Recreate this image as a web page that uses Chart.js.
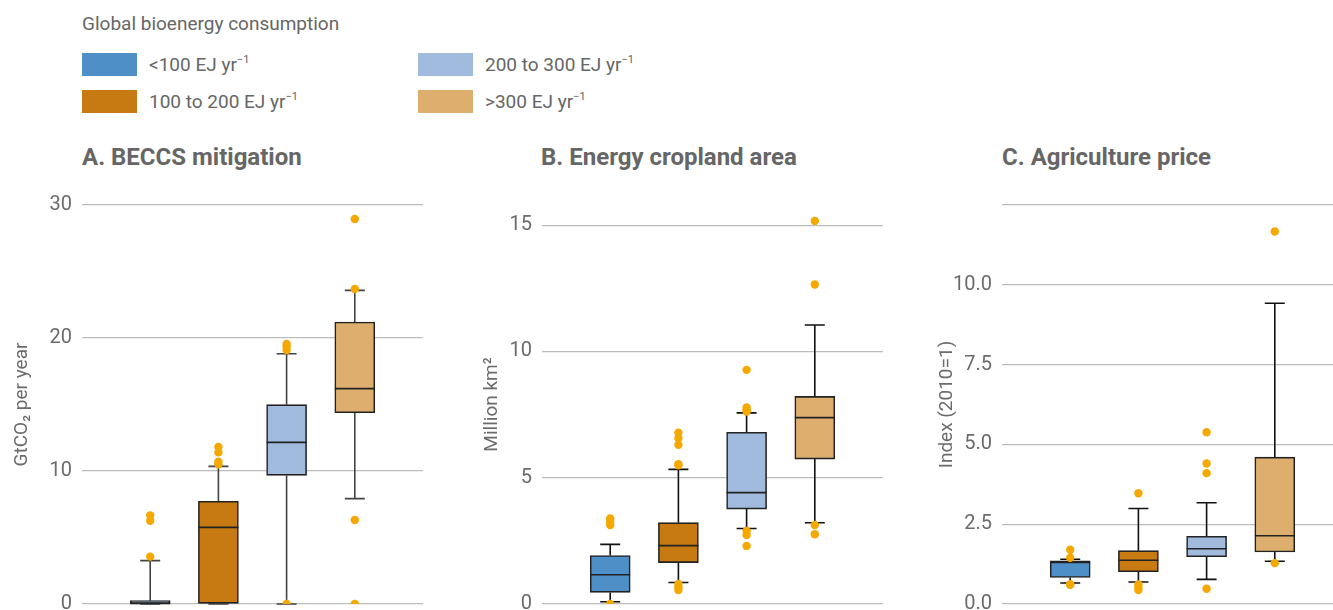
<!DOCTYPE html>
<html>
<head>
<meta charset="utf-8">
<script src="https://cdn.jsdelivr.net/npm/chart.js@4.4.0/dist/chart.umd.min.js"></script>
<style>
  body { margin: 0; width: 1333px; height: 610px; overflow: hidden; background: #fff; position: relative;
         font-family: 'Roboto', sans-serif; color: #666; }
  .legend-title { position: absolute; left: 82px; top: 12px; font-size: 19px; }
  .item { position: absolute; font-size: 19px; height: 23px; line-height: 23px; white-space: nowrap; }
  .item span.sw { position: absolute; left: 0; top: 0; width: 55px; height: 23px; }
  .item span.tx { position: absolute; left: 67px; top: 0; }
  sup { font-size: 11px; vertical-align: 8px; line-height: 0; }
  .title { position: absolute; top: 143px; font-size: 24px; font-weight: bold; color: #666; }
  .panel { position: absolute; top: 180px; height: 450px; }
</style>
</head>
<body>
<div class="legend-title">Global bioenergy consumption</div>
<div class="item" style="left:82px;top:53px"><span class="sw" style="background:#4f8fc8"></span><span class="tx">&lt;100 EJ yr<sup>&minus;1</sup></span></div>
<div class="item" style="left:82px;top:90px"><span class="sw" style="background:#c77a12"></span><span class="tx">100 to 200 EJ yr<sup>&minus;1</sup></span></div>
<div class="item" style="left:418px;top:53px"><span class="sw" style="background:#a1bbdf"></span><span class="tx">200 to 300 EJ yr<sup>&minus;1</sup></span></div>
<div class="item" style="left:418px;top:90px"><span class="sw" style="background:#ddae6e"></span><span class="tx">&gt;300 EJ yr<sup>&minus;1</sup></span></div>

<div class="title" style="left:82px">A. BECCS mitigation</div>
<div class="title" style="left:541px">B. Energy cropland area</div>
<div class="title" style="left:1002px">C. Agriculture price</div>

<div class="panel" style="left:0px;width:440px"><canvas id="chartA"></canvas></div>
<div class="panel" style="left:470px;width:430px"><canvas id="chartB"></canvas></div>
<div class="panel" style="left:925px;width:435px"><canvas id="chartC"></canvas></div>

<script>
const categories = ['<100', '100-200', '200-300', '>300'];
const colors = ['#4f8fc8', '#c77a12', '#a1bbdf', '#ddae6e'];

// box stats per category: [min, q1, median, q3, max]
const beccsBoxes = [
  [0, 0, 0.05, 0.25, 3.26],
  [0, 0, 5.76, 7.72, 10.35],
  [0, 9.67, 12.15, 14.99, 18.82],
  [7.92, 14.38, 16.19, 21.2, 23.58]
];
const beccsOutliers = [
  [3.56, 6.26, 6.66],
  [10.5, 10.7, 11.4, 11.8],
  [0, 19.1, 19.35, 19.55],
  [0, 6.32, 23.68, 28.95]
];

const croplandBoxes = [
  [0.09, 0.46, 1.16, 1.92, 2.36],
  [0.85, 1.64, 2.31, 3.22, 5.33],
  [2.99, 3.76, 4.41, 6.8, 7.57],
  [3.22, 5.74, 7.38, 8.22, 11.05]
];
const croplandOutliers = [
  [0, 3.13, 3.26, 3.39],
  [0.55, 0.66, 0.79, 5.49, 5.54, 6.3, 6.56, 6.78],
  [2.3, 2.73, 2.89, 7.62, 7.68, 7.78, 9.27],
  [2.76, 3.13, 12.65, 15.17]
];

const priceBoxes = [
  [0.66, 0.83, 1.3, 1.35, 1.4],
  [0.69, 1.01, 1.37, 1.67, 2.99],
  [0.77, 1.48, 1.73, 2.12, 3.17],
  [1.34, 1.63, 2.14, 4.6, 9.42]
];
const priceOutliers = [
  [0.6, 0.62, 1.45, 1.7],
  [0.44, 0.52, 0.61, 3.47],
  [0.48, 4.1, 4.4, 5.38],
  [1.28, 11.67]
];

const xLabels = [' '].concat(categories, ['  ']);

const boxPlugin = {
  id: 'boxParts',
  beforeDatasetsDraw(chart) {
    const boxes = chart.options.plugins.boxParts.boxes;
    const color = chart.options.plugins.boxParts.whisker;
    const x = chart.scales.x, y = chart.scales.y;
    const ctx = chart.ctx;
    ctx.save();
    ctx.strokeStyle = color;
    ctx.lineWidth = 1.6;
    boxes.forEach((b, i) => {
      const cx = x.getPixelForValue(i + 1);
      const half = 10;
      ctx.beginPath();
      ctx.moveTo(cx, y.getPixelForValue(b[3]));
      ctx.lineTo(cx, y.getPixelForValue(b[4]));
      ctx.moveTo(cx, y.getPixelForValue(b[1]));
      ctx.lineTo(cx, y.getPixelForValue(b[0]));
      ctx.moveTo(cx - half, y.getPixelForValue(b[4]));
      ctx.lineTo(cx + half, y.getPixelForValue(b[4]));
      ctx.moveTo(cx - half, y.getPixelForValue(b[0]));
      ctx.lineTo(cx + half, y.getPixelForValue(b[0]));
      ctx.stroke();
    });
    ctx.restore();
  },
  afterDatasetDraw(chart, args) {
    if (args.index !== 1) return;
    const boxes = chart.options.plugins.boxParts.boxes;
    const x = chart.scales.x, y = chart.scales.y;
    const ctx = chart.ctx;
    ctx.save();
    ctx.strokeStyle = '#222';
    ctx.lineWidth = 1.6;
    boxes.forEach((b, i) => {
      const cx = x.getPixelForValue(i + 1);
      const py = y.getPixelForValue(b[2]);
      ctx.beginPath();
      ctx.moveTo(cx - 20, py);
      ctx.lineTo(cx + 20, py);
      ctx.stroke();
    });
    ctx.restore();
  }
};

function makePanel(id, boxes, outliers, yTitle, yMax, step, axisWidth, fmt, whisker) {
  const points = [];
  outliers.forEach((list, i) => list.forEach(v => points.push({ x: categories[i], y: v })));
  const bars = [null].concat(boxes.map(b => [b[1], b[3]]), [null]);
  return new Chart(document.getElementById(id), {
    type: 'bar',
    data: {
      labels: xLabels,
      datasets: [
        {
          type: 'scatter',
          data: points,
          backgroundColor: '#f5a800',
          borderWidth: 0,
          pointRadius: 4.2,
          order: 0
        },
        {
          data: bars,
          backgroundColor: [null].concat(colors, [null]),
          borderColor: '#222',
          borderWidth: 1.6,
          borderSkipped: false,
          barThickness: 40,
          order: 1
        }
      ]
    },
    options: {
      responsive: true,
      maintainAspectRatio: false,
      animation: false,
      layout: { padding: { top: 25, bottom: 26, left: 0, right: 17 } },
      plugins: {
        legend: { display: false },
        tooltip: { enabled: false },
        boxParts: { boxes: boxes, whisker: whisker }
      },
      scales: {
        x: { type: 'category', offset: false, display: false },
        y: {
          min: 0,
          max: yMax,
          border: { display: false },
          grid: { color: '#bdbdbd', lineWidth: 1.3, drawTicks: false },
          ticks: {
            stepSize: step,
            includeBounds: false,
            padding: 10,
            color: '#6b6b6b',
            font: { family: "'Roboto', sans-serif", size: 20 },
            callback: fmt
          },
          title: {
            display: true,
            text: yTitle,
            color: '#6b6b6b',
            padding: { top: 11, bottom: 0 },
            font: { family: "'Roboto', sans-serif", size: 19 }
          },
          afterFit(scale) { scale.width = axisWidth; }
        }
      }
    },
    plugins: [boxPlugin]
  });
}

makePanel('chartA', beccsBoxes, beccsOutliers, 'GtCO\u2082 per year', 30, 10, 82, v => v, '#444');
makePanel('chartB', croplandBoxes, croplandOutliers, 'Million km\u00b2', 15.8, 5, 72, v => v, '#111');
makePanel('chartC', priceBoxes, priceOutliers, 'Index (2010=1)', 12.5, 2.5, 77,
  v => (v >= 12.5 ? '' : v.toFixed(1)), '#111');
</script>
</body>
</html>
